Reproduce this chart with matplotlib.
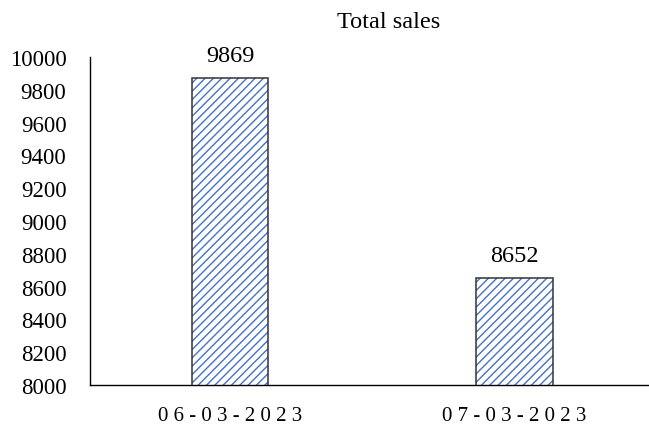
import matplotlib
matplotlib.use("Agg")
import matplotlib.pyplot as plt

categories = ["06-03-2023", "07-03-2023"]
values = [9869, 8652]
yticks = list(range(8000, 10001, 200))
title = "Total sales"

plt.rcParams['font.family'] = ['Liberation Serif', 'DejaVu Serif']
plt.rcParams['hatch.linewidth'] = 1.0

fig = plt.figure(figsize=(6.49, 4.27), dpi=100)
ax = fig.add_axes([90/649, 1-386/427, 1-90/649, (386-58)/427])

x = list(range(len(categories)))
# hatch fill (blue diagonal lines)
ax.bar(x, values, width=0.27, color='white', edgecolor='#4472C4',
       linewidth=0, hatch='////', zorder=2)
# dark outline
ax.bar(x, values, width=0.27, fill=False, edgecolor='#333333',
       linewidth=1.1, zorder=3)
ax.set_ylim(8000, 10000)
ax.set_xlim(-0.492, 1.473)
ax.set_yticks(yticks)
ax.set_yticklabels([str(t) for t in yticks], fontsize=16.5)
ax.set_xticks(x)
ax.set_xticklabels([" ".join(c) for c in categories], fontsize=15)
ax.tick_params(axis='both', length=0)
ax.tick_params(axis='y', pad=17)
ax.tick_params(axis='x', pad=15)
for s in ['top', 'right']:
    ax.spines[s].set_visible(False)
for s in ['left', 'bottom']:
    ax.spines[s].set_linewidth(1.0)
    ax.spines[s].set_color('black')

for xi, v in zip(x, values):
    ax.annotate(str(v), (xi, v), xytext=(0, 9), textcoords='offset points',
                ha='center', va='bottom', fontsize=17.5)

fig.text(389/649, 1-22/427, title, ha='center', va='center', fontsize=17.5)

fig.savefig("out.png", dpi=100)
